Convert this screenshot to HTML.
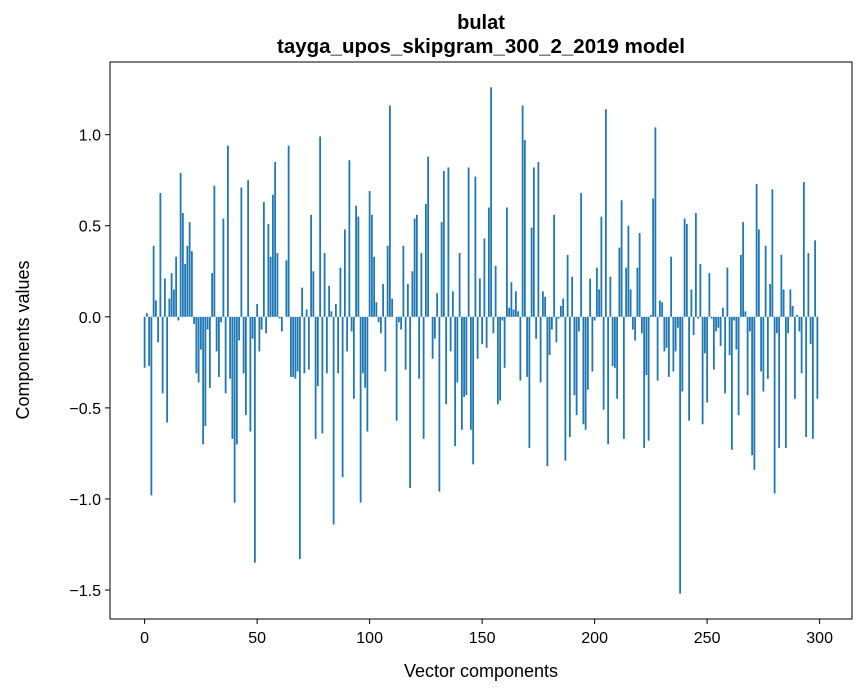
<!DOCTYPE html>
<html><head><meta charset="utf-8">
<style>
body{margin:0;background:#fff;}
svg{display:block;font-family:"Liberation Sans",sans-serif;}
</style></head>
<body>
<svg id="chart" width="867" height="696" viewBox="0 0 867 696" xmlns="http://www.w3.org/2000/svg">
<rect width="867" height="696" fill="#fff"/>
<text x="481" y="29" text-anchor="middle" font-size="20" font-weight="bold">bulat</text>
<text x="481" y="53" text-anchor="middle" font-size="20.5" font-weight="bold">tayga_upos_skipgram_300_2_2019 model</text>
<g id="bars"></g>
<g id="axes"></g>
<rect x="110" y="62" width="742" height="557" fill="none" stroke="#000" stroke-width="1"/>
<text x="481" y="677" text-anchor="middle" font-size="18">Vector components</text>
<text transform="translate(29,340) rotate(-90)" text-anchor="middle" font-size="18">Components values</text>
</svg>
<script>
const values = [
-0.28,0.02,-0.27,-0.98,0.39,0.09,-0.14,0.68,-0.42,0.21,
-0.58,0.10,0.24,0.15,0.33,-0.02,0.79,0.57,0.29,0.39,
0.52,0.36,-0.04,-0.31,-0.36,-0.18,-0.70,-0.60,-0.07,-0.39,
0.24,0.72,-0.19,-0.33,-0.03,0.54,-0.42,0.94,-0.34,-0.67,
-1.02,-0.70,-0.13,0.71,-0.31,-0.54,0.75,-0.63,-0.12,-1.35,
0.07,-0.19,-0.07,0.63,-0.09,0.51,0.33,0.67,0.85,0.35,
-0.01,-0.08,0.0,0.31,0.94,-0.33,-0.33,-0.34,-0.30,-1.33,
0.16,-0.31,0.04,-0.29,0.56,0.25,-0.67,-0.38,0.99,-0.64,
0.35,-0.31,0.17,0.03,-1.14,0.07,-0.31,0.27,-0.88,0.48,
-0.19,0.86,-0.08,-0.45,0.61,0.55,-1.02,-0.31,-0.39,-0.63,
0.69,0.56,0.33,0.08,-0.03,-0.09,0.18,-0.30,0.39,1.16,
0.10,0.0,-0.57,-0.03,-0.07,0.39,-0.29,0.18,-0.94,0.25,
0.54,0.56,-0.34,0.35,-0.67,0.62,0.88,0.0,-0.23,-0.12,
0.13,-0.96,0.52,0.80,-0.48,0.82,-0.19,0.14,-0.71,-0.36,
0.35,-0.62,-0.44,-0.43,0.82,-0.62,-0.81,0.77,-0.23,0.21,
-0.15,0.43,-0.17,0.60,1.26,-0.09,0.28,-0.48,-0.46,-0.02,
-0.28,0.60,0.05,0.19,0.04,0.14,0.03,-0.35,1.16,0.97,
-0.33,-0.72,0.49,0.82,-0.12,0.85,-0.36,0.14,0.11,-0.82,
-0.21,-0.07,0.56,-0.14,-0.01,0.06,0.10,-0.79,0.34,-0.66,
0.22,-0.43,-0.54,-0.08,0.68,-0.59,-0.62,-0.40,0.21,-0.30,
-0.02,0.27,0.15,0.55,-0.51,1.14,-0.70,0.22,-0.27,-0.28,
-0.45,0.38,0.64,-0.67,0.27,0.50,0.15,-0.07,-0.13,0.27,
0.46,-0.09,-0.72,-0.32,-0.68,0.01,0.65,1.04,-0.35,0.09,
0.08,-0.19,-0.17,-0.33,0.33,-0.30,-0.19,-0.06,-1.52,-0.41,
0.54,0.51,-0.57,0.15,-0.10,0.57,-0.01,0.29,-0.59,-0.20,
-0.47,0.24,-0.01,-0.29,-0.08,-0.06,-0.16,0.05,-0.42,0.27,
-0.21,-0.73,-0.02,-0.18,-0.54,0.34,0.52,0.03,-0.43,-0.08,
-0.76,-0.84,0.73,0.48,-0.30,-0.41,0.39,-0.34,0.18,0.70,
-0.97,-0.09,-0.72,0.34,0.15,-0.72,-0.09,0.15,0.06,-0.45,
0.01,-0.08,-0.31,0.74,-0.66,0.35,-0.15,-0.67,0.42,-0.45
];
const xTicks = [0,50,100,150,200,250,300];
const yTicks = [-1.5,-1.0,-0.5,0.0,0.5,1.0];
const yTickLabels = ["\u22121.5","\u22121.0","\u22120.5","0.0","0.5","1.0"];

const L=110,R=852,T=62,B=619;
const xMin=-15.39,xMax=314.39,yMin=-1.659,yMax=1.399;
const xs=v=>L+(v-xMin)/(xMax-xMin)*(R-L);
const ys=v=>B-(v-yMin)/(yMax-yMin)*(B-T);
const NS="http://www.w3.org/2000/svg";
const bars=document.getElementById('bars');
const axes=document.getElementById('axes');
const bw=xs(0.8)-xs(0);
values.forEach((v,i)=>{
  const r=document.createElementNS(NS,'rect');
  
  
  const y0=ys(0),y1=ys(v);
  r.setAttribute('x',xs(i)-bw/2);
  r.setAttribute('y',Math.min(y0,y1));
  r.setAttribute('width',bw);
  r.setAttribute('height',Math.max(Math.abs(y1-y0),0.01));
  r.setAttribute('fill','#1f77b4');
  bars.appendChild(r);
});
xTicks.forEach(t=>{
  const x=xs(t);
  const l=document.createElementNS(NS,'line');
  
  
  l.setAttribute('x1',x);l.setAttribute('x2',x);l.setAttribute('y1',B);l.setAttribute('y2',B+5);
  l.setAttribute('stroke','#000');
  axes.appendChild(l);
  const tx=document.createElementNS(NS,'text');
  
  
  tx.setAttribute('x',x);tx.setAttribute('y',B+24);
  tx.setAttribute('text-anchor','middle');tx.setAttribute('font-size','16');
  tx.textContent=String(t);
  axes.appendChild(tx);
});
yTicks.forEach((t,k)=>{
  const y=ys(t);
  const l=document.createElementNS(NS,'line');
  
  
  l.setAttribute('x1',L-5);l.setAttribute('x2',L);l.setAttribute('y1',y);l.setAttribute('y2',y);
  l.setAttribute('stroke','#000');
  axes.appendChild(l);
  const tx=document.createElementNS(NS,'text');
  
  
  tx.setAttribute('x',L-9);tx.setAttribute('y',y+6);
  tx.setAttribute('text-anchor','end');tx.setAttribute('font-size','16');
  tx.textContent=yTickLabels[k];
  axes.appendChild(tx);
});
</script>
</body></html>
